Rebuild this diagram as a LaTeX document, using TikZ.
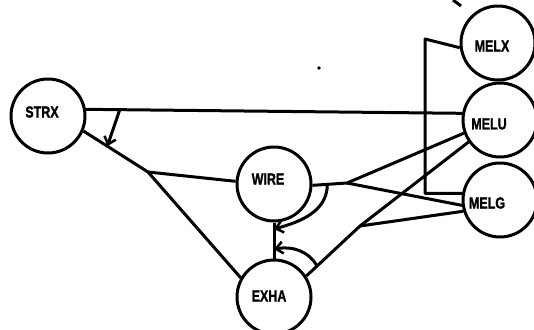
\documentclass[tikz,border=0pt]{standalone}
\usepackage{fontspec}
\setmainfont{Liberation Sans}
\newfontfamily\lblfont{Liberation Sans}[BoldFeatures={FakeBold=1.6}]
\usetikzlibrary{calc,arrows.meta}
\begin{document}
\begin{tikzpicture}[x=1pt,y=1pt,
  every path/.style={line width=3pt,line join=round},
  vertex/.style={circle,draw,line width=3pt,minimum size=74pt,inner sep=0pt},
  lbl/.style={inner sep=0pt,font=\lblfont\bfseries\fontsize{16}{16}\selectfont},
  arr/.style={-{Straight Barb[length=7pt,width=12pt,line width=2.5pt]}}]
\useasboundingbox (0,0) rectangle (534,-329);
% nodes
\node[vertex] (strx) at (48,-116) {};
\node[vertex] (wire) at (274,-184) {};
\node[vertex] (exha) at (274,-297) {};
\node[vertex] (melx) at (498,-43) {};
\node[vertex] (melu) at (500,-120) {};
\node[vertex] (melg) at (500,-200) {};
% labels
\node[lbl] (tstrx) at (42,-112) {\scalebox{0.78}[1]{STRX}};
\node[lbl] (twire) at (268,-179) {\scalebox{0.78}[1]{WIRE}};
\node[lbl] (texha) at (269,-296) {\scalebox{0.78}[1]{EXHA}};
\node[lbl] (tmelx) at (492,-46) {\scalebox{0.78}[1]{MELX}};
\node[lbl] (tmelu) at (489,-124) {\scalebox{0.78}[1]{MELU}};
\node[lbl] (tmelg) at (487,-203) {\scalebox{0.78}[1]{MELG}};
% junctions
\coordinate (j1) at (148,-172);
\coordinate (j2) at (347,-183);
\coordinate (j3) at (360,-226);
\coordinate (b1) at (425,-39);
% connectors
\draw (strx.10) -- (melu.170);
\draw (strx.-23) -- (j1) -- (exha.150);
\draw (j1) -- (wire.176);
\draw (wire.south) -- (exha.north);
\draw (wire.-2) -- (j2) -- (melu.200);
\draw (j2) -- (melg.188);
\draw (exha.33) -- (j3) -- (melu.215);
\draw (j3) -- (melg.197);
\draw (melx.187) -- (b1) |- (melg.170);
% arrows
\coordinate (a1) at ($(strx.10)!0.09!(melu.170)$);
\coordinate (a2) at ($(strx.-23)!0.37!(j1)$);
\draw[arr] (a1) -- (a2);
\coordinate (c1) at ($(wire.-2)!0.43!(j2)$);
\coordinate (c2) at ($(wire.south)!0.18!(exha.north)$);
\draw[arr] (c1) to[out=-90,in=15] (c2);
\coordinate (c3) at ($(exha.33)!0.2!(j3)$);
\coordinate (c4) at ($(wire.south)!0.74!(exha.north)$);
\draw[arr] (c3) to[out=120,in=10] (c4);
% stray marks
\coordinate (k1) at (453,0);
\coordinate (k2) at (461,-6);
\draw (k1) -- (k2);
\fill (319,-68) circle (1.8);
\end{tikzpicture}
\end{document}
